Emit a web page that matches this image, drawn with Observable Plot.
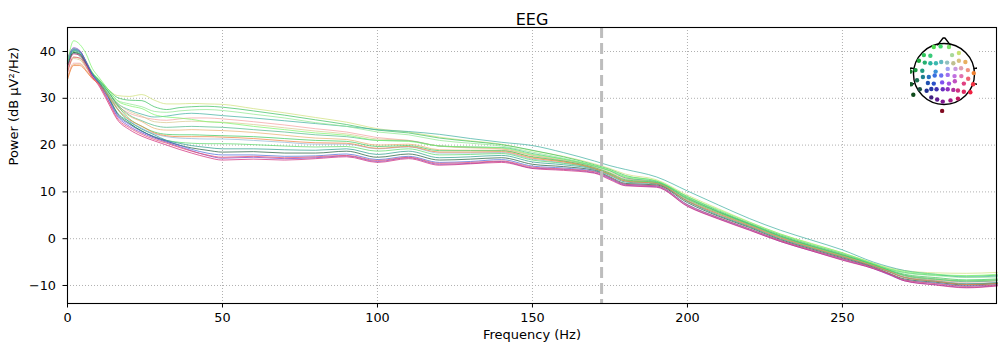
<!DOCTYPE html>
<html><head><meta charset="utf-8">
<script src="https://cdn.jsdelivr.net/npm/d3@7"></script>
<script src="https://cdn.jsdelivr.net/npm/@observablehq/plot@0.6"></script>
<style>
html,body{margin:0;padding:0;background:#fff;}
#wrap{position:relative;width:1000px;height:350px;font-family:"DejaVu Sans",sans-serif;}
#wrap > svg{position:absolute;left:0;top:0;}
#wrap > svg.head{left:910px;top:33px;}
</style></head><body><div id="wrap"></div>
<script>
// ---- data ----
const title = "EEG";
const xLabel = "Frequency (Hz)";
const yLabel = "Power (dB µV²/Hz)";
const xTicks = [0, 50, 100, 150, 200, 250];
const yTicks = [-10, 0, 10, 20, 30, 40];
const cutoffHz = 172.3;

const freqs = [0,2,4,6,8,10,13,16,20,24,28,32,36,40,45,50,60,70,80,90,100,110,120,130,140,150,160,170,175,180,190,200,210,220,230,240,250,260,265,270,280,290,300];

const chanNames = ["A","B","C","D","E","F","G","H","I","J","K","L","M","N","O","P","Q","R","S"];
const chanColors = ["#cfe07a","#3cc060","#40b0a0","#90e890","#f4a0a0","#d8c890","#50b888","#e8b070","#3cc85a","#90b8d8","#58d868","#2a9a8a","#1f5a3a","#4a6ad8","#7a3ec8","#d02a7a","#e84a6a","#7cf56a","#f08040"];

const psdA = [36.0,38.8,38.5,36.8,35.0,33.8,32.0,30.6,30.4,30.8,29.6,28.8,28.8,28.9,28.8,28.7,27.8,26.9,25.9,24.9,23.5,22.8,21.7,20.9,20.2,18.8,17.6,16.0,15.0,13.8,12.6,9.3,6.4,3.6,1.0,-1.0,-3.0,-5.2,-6.2,-6.8,-7.3,-7.4,-7.2];
const psdB = [37.0,40.0,39.5,37.5,35.4,34.0,32.0,30.2,29.6,29.5,28.2,27.6,28.0,28.2,28.3,28.1,27.3,26.4,25.4,24.4,23.2,22.6,21.5,20.8,20.1,18.9,17.5,15.8,14.8,13.5,12.3,9.0,6.0,3.3,0.8,-1.3,-3.2,-5.4,-6.5,-7.2,-7.8,-8.0,-7.8];
const psdC = [36.8,39.6,39.0,37.2,35.2,33.8,31.5,29.0,27.5,26.6,26.0,26.2,26.6,26.8,26.6,26.3,25.8,25.2,24.6,24.0,23.3,22.9,22.3,21.4,20.6,19.9,18.4,16.6,15.6,14.8,13.2,10.2,7.2,4.3,1.8,-0.3,-2.4,-5.0,-6.0,-6.8,-7.6,-8.2,-8.0];
const psdD = [37.5,40.5,40.0,38.0,35.6,34.2,32.0,29.6,28.8,28.2,27.2,27.0,27.3,27.5,27.6,27.4,26.6,25.8,24.8,24.0,22.8,22.2,21.0,20.4,19.8,18.5,17.2,15.6,14.5,13.2,12.0,8.6,5.8,3.2,0.6,-1.4,-3.3,-5.6,-6.6,-7.3,-7.9,-8.3,-8.2];
const psdE = [34.5,37.5,37.5,36.0,34.2,33.2,31.0,28.5,26.8,26.0,25.5,25.3,25.6,25.8,25.8,25.6,25.0,24.3,23.5,22.8,21.6,21.0,19.8,19.5,19.2,17.8,16.7,15.2,14.0,12.8,12.0,8.4,5.6,3.0,0.4,-1.6,-3.5,-5.8,-7.0,-8.0,-8.8,-9.3,-9.0];
const psdF = [35.5,38.5,38.2,36.5,34.6,33.5,31.4,29.0,27.2,26.2,25.0,24.8,25.0,25.1,25.0,24.9,24.4,23.7,23.0,22.4,21.3,21.0,19.8,19.4,19.2,17.8,16.8,15.4,14.2,13.0,12.0,8.5,5.6,3.0,0.4,-1.6,-3.5,-5.7,-6.9,-7.8,-8.5,-9.0,-8.8];
const psdG = [37.0,39.8,39.2,37.3,35.2,33.8,31.5,28.8,26.4,25.2,24.2,23.8,23.9,24.0,23.9,23.8,23.3,22.8,22.2,21.8,21.0,20.9,19.8,19.6,19.5,18.2,17.0,15.5,14.5,13.0,12.2,8.8,5.8,3.2,0.6,-1.5,-3.4,-5.6,-6.8,-7.8,-8.6,-9.2,-9.0];
const psdH = [34.0,37.2,37.3,36.0,34.4,33.4,31.0,28.4,26.2,25.0,23.6,23.2,23.2,23.3,23.2,23.1,22.7,22.1,21.5,21.2,20.0,20.2,19.0,18.9,18.9,17.4,16.5,15.0,13.8,12.5,11.8,8.0,5.2,2.7,0.2,-1.8,-3.7,-5.8,-7.0,-8.2,-8.9,-9.6,-9.4];
const psdI = [37.6,40.2,39.6,37.6,35.4,34.0,31.6,28.6,25.6,24.0,22.8,22.3,22.2,22.2,22.1,22.0,21.8,21.4,21.0,20.8,19.7,19.9,18.8,18.8,18.8,17.5,16.6,15.2,14.0,12.6,12.0,8.6,5.7,3.1,0.5,-1.6,-3.5,-5.5,-6.7,-7.6,-8.3,-8.8,-8.6];
const psdJ = [38.0,40.2,39.6,37.5,35.2,33.8,31.2,28.0,25.2,23.6,22.4,21.8,21.5,21.4,21.3,21.3,21.0,20.6,20.2,20.2,19.2,19.6,18.3,18.3,18.4,17.0,16.2,15.0,13.7,12.3,11.8,8.2,5.3,2.8,0.3,-1.9,-3.8,-5.8,-7.0,-8.2,-9.0,-9.6,-9.4];
const psdK = [38.2,40.6,40.0,37.8,35.4,33.8,31.0,27.8,24.8,23.0,21.8,21.0,20.6,20.4,20.3,20.3,20.1,19.8,19.6,19.7,18.7,19.2,17.9,18.0,18.2,16.8,16.1,15.0,13.8,12.4,12.0,8.4,5.5,3.0,0.4,-1.7,-3.6,-5.6,-6.8,-7.9,-8.7,-9.0,-8.8];
const psdL = [37.8,40.3,39.8,37.6,35.2,33.6,30.7,27.0,25.0,23.4,22.2,21.0,20.4,19.9,19.5,19.2,19.2,19.0,18.9,19.2,18.0,18.7,17.3,17.5,17.8,16.4,15.8,14.8,13.5,12.1,11.7,8.0,5.0,2.6,0.0,-2.0,-3.9,-5.9,-7.1,-8.3,-9.1,-9.7,-9.4];
const psdM = [37.0,39.8,39.4,37.4,35.0,33.4,30.4,26.8,24.6,23.0,21.7,20.8,20.0,19.4,18.9,18.5,18.6,18.3,18.3,18.7,17.4,18.1,16.8,17.0,17.3,15.9,15.4,14.6,13.2,11.8,11.5,7.7,4.8,2.4,-0.2,-2.2,-4.1,-6.1,-7.4,-8.6,-9.3,-9.9,-9.6];
const psdN = [37.5,40.5,40.0,37.8,35.2,33.4,30.2,26.5,24.4,22.9,21.8,20.9,20.0,19.1,18.3,17.9,17.9,17.6,17.7,18.1,16.9,17.6,16.3,16.5,16.9,15.5,15.1,14.4,13.0,11.6,11.3,7.3,4.5,2.1,-0.4,-2.4,-4.3,-6.2,-7.5,-8.8,-9.5,-10.1,-9.8];
const psdO = [38.5,40.8,40.2,37.8,35.0,33.2,29.8,26.2,24.0,22.6,21.5,20.6,19.7,18.8,17.8,17.2,17.4,17.1,17.3,17.7,16.5,17.3,15.9,16.1,16.5,15.1,14.8,14.1,12.8,11.4,11.1,7.0,4.3,1.9,-0.6,-2.6,-4.5,-6.4,-7.7,-9.0,-9.8,-10.4,-10.0];
const psdP = [36.5,39.5,39.2,37.2,34.6,32.8,29.2,25.5,23.3,21.9,20.9,20.0,19.1,18.3,17.4,16.8,17.0,16.8,17.1,17.5,16.3,17.1,15.7,16.0,16.3,15.0,14.6,14.0,12.6,11.3,11.0,6.9,4.2,1.8,-0.6,-2.6,-4.6,-6.4,-7.6,-9.0,-9.9,-10.5,-10.1];
const psdQ = [35.5,38.8,38.6,36.8,34.5,33.0,29.6,25.8,23.7,22.3,21.2,20.4,19.5,18.7,17.9,17.4,17.6,17.3,17.5,17.8,16.7,17.4,16.1,16.3,16.6,15.3,14.9,14.3,13.0,11.6,11.3,7.2,4.5,2.1,-0.4,-2.4,-4.3,-6.2,-7.4,-8.8,-9.6,-10.2,-9.9];
const psdR = [37.5,42.3,41.5,39.5,36.4,34.6,32.0,29.5,28.4,27.8,26.5,26.0,25.8,25.5,25.0,24.8,24.0,23.3,22.6,22.1,21.0,20.8,19.8,19.6,19.4,18.0,17.0,15.6,14.6,13.3,12.4,9.0,6.2,3.5,1.0,-1.1,-3.0,-5.3,-6.4,-7.0,-7.6,-7.9,-7.6];
const psdS = [34.0,37.0,37.0,35.8,34.2,33.2,30.6,27.8,25.4,24.0,22.6,22.0,21.8,21.8,21.8,21.7,21.4,20.9,20.5,20.4,19.3,19.7,18.5,18.5,18.6,17.2,16.4,15.0,13.7,12.3,11.8,8.1,5.3,2.8,0.2,-1.9,-3.8,-5.8,-7.0,-8.3,-9.1,-9.8,-9.6];
const psdAll = [psdA,psdB,psdC,psdD,psdE,psdF,psdG,psdH,psdI,psdJ,psdK,psdL,psdM,psdN,psdO,psdP,psdQ,psdR,psdS];

// sensor layout (head-normalised) and colours
const sensorX = [-0.33,-0.11,0.16, -0.65,-0.44,0.26,0.48, -0.81,-0.62,-0.44,-0.26,-0.09,0.10,0.30,0.48,0.69, -1.08,-0.92,-0.70,-0.27,0.12,0.37,0.55,0.77,0.96, -0.87,-0.68,-0.49,-0.30,-0.09,0.12,0.34,0.56,0.78, -1.06,-0.52,-0.33,-0.06,0.16,0.35,0.64,0.94, -0.78,-0.56,-0.41,-0.24,-0.04,0.12,0.30,0.45,0.64,0.85, -0.99,-0.41,-0.22,-0.04,0.21,0.45, -0.06];
const sensorY = [0.90,0.92,0.90, 0.63,0.61,0.63,0.70, 0.44,0.38,0.36,0.36,0.40,0.38,0.36,0.44,0.40, 0.08,0.13,0.11,0.08,0.17,0.17,0.19,0.13,0.03, -0.21,-0.10,-0.10,-0.05,-0.05,-0.03,-0.07,-0.07,-0.16, -0.34,-0.30,-0.32,-0.28,-0.32,-0.24,-0.32,-0.34, -0.51,-0.56,-0.50,-0.51,-0.51,-0.51,-0.53,-0.55,-0.59,-0.61, -0.69,-0.78,-0.85,-0.92,-0.88,-0.82, -1.23];
const sensorColor = ["#4ddb4d","#3fd86a","#7be06a", "#2fc45a","#3acb7a","#a8d89a","#c8e070", "#1fa83c","#26b070","#2ab5a0","#3ab8b0","#60b8c0","#90c0c0","#c0c090","#d8c080","#e8b060", "#157a2a","#1a9a40","#209a80","#3a90d8","#a0a0f0","#c898e0","#e0a0b0","#f09080","#f08030", "#1a7050","#1e8090","#2a70c0","#3a70e0","#6a70f0","#a070f0","#c070e0","#e070b0","#f06070", "#105a2a","#2050b0","#2a50c8","#8050f0","#a050e0","#c050c0","#e04080","#f03040", "#1a5040","#203090","#2838a8","#4030b0","#6a30c0","#9030c0","#b030a0","#d03080","#e02860","#f02040", "#0e4a1a","#402080","#601a90","#801890","#a01880","#c01860", "#800a20"];
const noseX = [-0.20,-0.03,0.03,0.20], noseY = [0.97,1.20,1.20,0.97];
const earLX = [-0.97,-1.07,-1.13,-1.13,-1.07,-0.97], earY = [0.18,0.20,0.12,-0.26,-0.34,-0.32];
const earRX = [0.97,1.07,1.13,1.13,1.07,0.97];

// ---- build tables ----
const rows = [];
psdAll.forEach((vals, c) => vals.forEach((v, i) => rows.push({ch: chanNames[c], color: chanColors[c], f: freqs[i], p: v})));
const sensors = sensorX.map((x, i) => ({x, y: sensorY[i], color: sensorColor[i]}));
const pts = (xs, ys) => xs.map((x, i) => ({x, y: ys[i]}));

const font = "DejaVu Sans, sans-serif";
const chart = Plot.plot({
  width: 1000, height: 350,
  marginTop: 27, marginBottom: 47, marginLeft: 67, marginRight: 4,
  style: {fontFamily: font, fontSize: "13px", color: "black", background: "white", overflow: "visible"},
  x: {domain: [0, 299.7]},
  y: {domain: [-13.85, 45.13]},
  color: {type: "identity"},
  marks: [
    Plot.gridX(xTicks, {stroke: "#b0b0b0", strokeOpacity: 1, strokeWidth: 1, strokeDasharray: "1,2"}),
    Plot.gridY(yTicks, {stroke: "#b0b0b0", strokeOpacity: 1, strokeWidth: 1, strokeDasharray: "1,2"}),
    Plot.line(rows, {x: "f", y: "p", z: "ch", stroke: "color", strokeWidth: 0.9, strokeOpacity: 0.8, curve: "monotone-x"}),
    Plot.ruleX([cutoffHz], {stroke: "#bdbdbd", strokeWidth: 3, strokeDasharray: "11,5"}),
    Plot.frame({stroke: "black", strokeWidth: 1.1}),
    Plot.axisX(xTicks, {tickSize: 4.5, tickPadding: 5, fontSize: 12.8, label: null}),
    Plot.axisY(yTicks, {tickSize: 4.5, tickPadding: 7, fontSize: 12.8, label: null}),
    Plot.text([title], {text: d => d, frameAnchor: "top", dy: -14, fontSize: 16}),
    Plot.text([xLabel], {text: d => d, frameAnchor: "bottom", dy: 35, fontSize: 13}),
    Plot.text([yLabel], {text: d => d, frameAnchor: "left", dx: -54, rotate: -90, fontSize: 13})
  ]
});

const head = Plot.plot({
  width: 67, height: 84, margin: 0,
  style: {background: "white"},
  x: {domain: [-1, 1], range: [2.5, 64.5], axis: null},
  y: {domain: [-1, 1], range: [70.5, 10.5], axis: null},
  color: {type: "identity"},
  marks: [
    Plot.dot([{x: 0, y: 0}], {x: "x", y: "y", r: 30.5, stroke: "black", strokeWidth: 1.4, fill: "white"}),
    Plot.line(pts(noseX, noseY), {x: "x", y: "y", stroke: "black", strokeWidth: 1.4}),
    Plot.line(pts(earLX, earY), {x: "x", y: "y", stroke: "black", strokeWidth: 1.4}),
    Plot.line(pts(earRX, earY), {x: "x", y: "y", stroke: "black", strokeWidth: 1.4}),
    Plot.dot(sensors, {x: "x", y: "y", r: 2.2, fill: "color", stroke: "none"})
  ]
});
head.setAttribute("class", (head.getAttribute("class") || "") + " head");

const wrap = document.getElementById("wrap");
wrap.appendChild(chart);
wrap.appendChild(head);
</script>
</body></html>
